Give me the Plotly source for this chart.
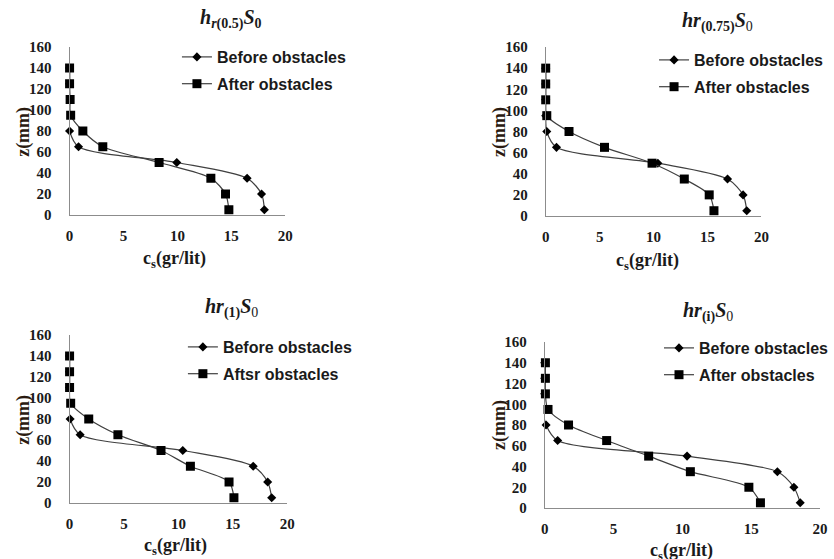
import plotly.graph_objects as go

# ---------------- data ----------------
z = [5, 20, 35, 50, 65, 80, 95, 110, 125, 140]

before_05 = [18.06, 17.8, 16.46, 9.94, 0.83, 0.0, -0.1, -0.15, 0.0, 0.0]
after_05 = [14.77, 14.46, 13.1, 8.3, 3.08, 1.23, 0.1, 0.05, 0.0, 0.0]

before_075 = [18.64, 18.3, 16.86, 10.4, 1.0, 0.1, 0.0, 0.0, 0.0, 0.0]
after_075 = [15.6, 15.16, 12.85, 9.86, 5.45, 2.16, 0.1, 0.0, 0.0, 0.0]

before_1 = [18.57, 18.2, 16.87, 10.4, 0.97, 0.05, -0.1, 0.0, 0.0, 0.0]
after_1 = [15.1, 14.65, 11.1, 8.4, 4.44, 1.76, 0.1, 0.0, 0.0, 0.0]

before_i = [18.56, 18.1, 16.9, 10.34, 0.94, 0.1, -0.1, 0.0, 0.0, 0.0]
after_i = [15.67, 14.83, 10.58, 7.55, 4.5, 1.73, 0.24, 0.05, 0.05, 0.05]

titles = [
    "<b><i>h</i></b><sub><b><i>r</i></b><b>(0.5)</b></sub><b><i>S</i></b><sub><b>0</b></sub>",
    "<b><i>hr</i></b><sub><b>(0.75)</b></sub><b><i>S</i></b><sub>0</sub>",
    "<b><i>hr</i></b><sub><b>(1)</b></sub><b><i>S</i></b><sub>0</sub>",
    "<b><i>hr</i></b><sub><b>(i)</b></sub><b><i>S</i></b><sub>0</sub>",
]
legend_before = ["Before obstacles"] * 4
legend_after = ["After obstacles", "After obstacles", "Aftsr obstacles", "After obstacles"]

x_ticks = [0, 5, 10, 15, 20]
y_ticks = [0, 20, 40, 60, 80, 100, 120, 140, 160]

befores = [before_05, before_075, before_1, before_i]
afters = [after_05, after_075, after_1, after_i]

# ---------------- layout geometry (pixels) ----------------
W, H = 834, 559
areas = [(70, 287, 47, 215), (549, 766, 47, 216), (70, 289, 335, 503), (548, 825, 342, 508)]
title_pos = [(232, 19), (722, 22), (233, 308), (712, 312)]
xtitle_pos = [(176, 259), (651, 261), (177, 546), (686, 551)]
ytitle_pos = [(23, 132), (502, 132), (23, 420), (502, 425)]
legend_pos = [(178, 40), (658, 43), (184, 330), (663, 331)]

LINE = "#404040"
TXT = "#1a1a1a"
SERIF = "Liberation Serif"
SANS = "Liberation Sans"

fig = go.Figure()
annotations = []
layout_axes = {}

for i in range(4):
    sfx = "" if i == 0 else str(i + 1)
    leg = "legend" if i == 0 else "legend" + str(i + 1)
    fig.add_trace(go.Scatter(
        x=befores[i], y=z, mode="lines+markers", name=legend_before[i],
        line=dict(color=LINE, width=1.2, shape="spline", smoothing=0.8),
        marker=dict(symbol="diamond", size=7, color="black"),
        xaxis="x" + sfx, yaxis="y" + sfx, legend=leg, legendgroup="b%d" % i,
        cliponaxis=False,
    ))
    fig.add_trace(go.Scatter(
        x=afters[i], y=z, mode="lines+markers", name=legend_after[i],
        line=dict(color=LINE, width=1.2, shape="spline", smoothing=0.8),
        marker=dict(symbol="square", size=9, color="black"),
        xaxis="x" + sfx, yaxis="y" + sfx, legend=leg, legendgroup="a%d" % i,
        cliponaxis=False,
    ))
    x0, x1, yt, yb = areas[i]
    layout_axes["xaxis" + sfx] = dict(
        domain=[x0 / W, x1 / W], range=[0, 20], tickvals=x_ticks, automargin=False,
        showgrid=False, zeroline=False, showline=True, linecolor="#8c8c8c", linewidth=1,
        ticks="", ticklabelstandoff=7, anchor="y" + sfx,
        tickfont=dict(family=SERIF, size=15, color=TXT, weight="bold"),
    )
    layout_axes["yaxis" + sfx] = dict(
        domain=[1 - yb / H, 1 - yt / H], range=[0, 160], tickvals=y_ticks, automargin=False,
        showgrid=False, zeroline=False, showline=True, linecolor="#8c8c8c", linewidth=1,
        ticks="", ticklabelstandoff=14, anchor="x" + sfx,
        tickfont=dict(family=SERIF, size=15, color=TXT, weight="bold"),
    )
    lx, ly = legend_pos[i]
    layout_axes[leg] = dict(
        x=lx / W, y=1 - ly / H, xanchor="left", yanchor="top",
        bgcolor="rgba(0,0,0,0)", borderwidth=0,
        font=dict(family=SANS, size=16, color=TXT, weight="bold"),
        itemwidth=30, tracegroupgap=3,
    )
    tx, ty = title_pos[i]
    annotations.append(dict(text=titles[i], x=tx / W, y=1 - ty / H, xref="paper", yref="paper",
                            showarrow=False, xanchor="center", yanchor="middle",
                            font=dict(family=SERIF, size=20, color=TXT)))
    xx, xy = xtitle_pos[i]
    annotations.append(dict(text="<b>c<sub>s</sub>(gr/lit)</b>", x=xx / W, y=1 - xy / H,
                            xref="paper", yref="paper", showarrow=False,
                            xanchor="center", yanchor="middle",
                            font=dict(family=SERIF, size=18, color=TXT)))
    yx, yy = ytitle_pos[i]
    annotations.append(dict(text="<b>z(mm)</b>", x=yx / W, y=1 - yy / H,
                            xref="paper", yref="paper", showarrow=False, textangle=-90,
                            xanchor="center", yanchor="middle",
                            font=dict(family=SERIF, size=18, color="#2a1a10")))

fig.update_layout(
    width=W, height=H, margin=dict(l=0, r=0, t=0, b=0),
    paper_bgcolor="white", plot_bgcolor="white",
    showlegend=True, annotations=annotations, **layout_axes,
)

fig.write_html("out.html", config={"displayModeBar": False},
               post_script="document.body.style.margin='0';document.body.style.overflow='hidden';")
